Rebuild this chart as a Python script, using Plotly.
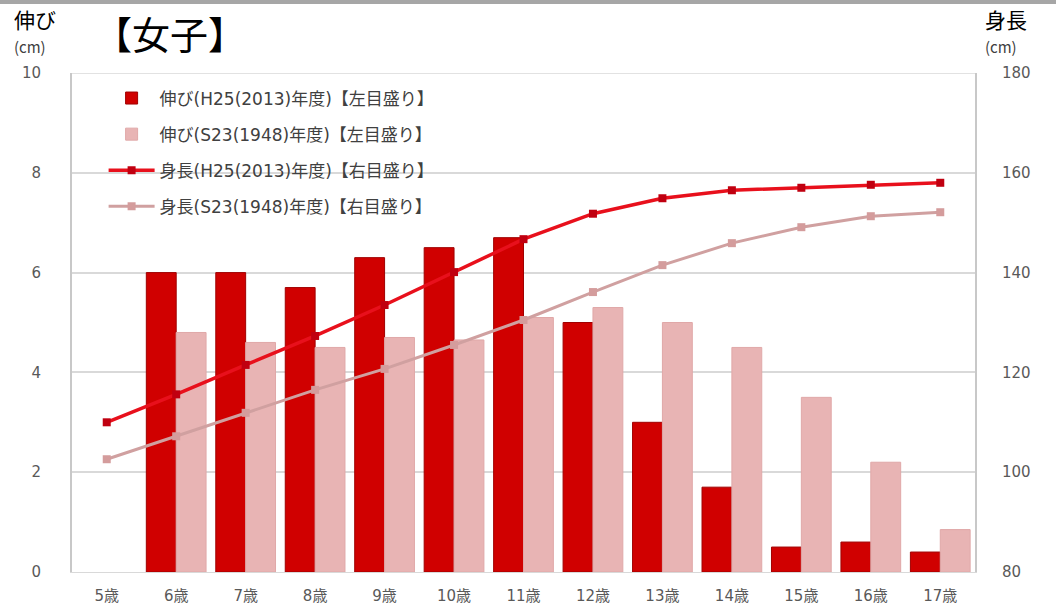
import plotly.graph_objects as go

ages = ["5歳", "6歳", "7歳", "8歳", "9歳", "10歳", "11歳", "12歳", "13歳", "14歳", "15歳", "16歳", "17歳"]
grow_h25 = [None, 6.0, 6.0, 5.7, 6.3, 6.5, 6.7, 5.0, 3.0, 1.7, 0.5, 0.6, 0.4]
grow_s23 = [None, 4.8, 4.6, 4.5, 4.7, 4.65, 5.1, 5.3, 5.0, 4.5, 3.5, 2.2, 0.85]
height_h25 = [110.0, 115.6, 121.5, 127.3, 133.5, 140.1, 146.7, 151.8, 154.9, 156.5, 157.0, 157.6, 158.0]
height_s23 = [102.6, 107.2, 111.9, 116.5, 120.7, 125.5, 130.5, 136.1, 141.5, 145.9, 149.1, 151.3, 152.1]

names = ["伸び(H25(2013)年度)【左目盛り】", "伸び(S23(1948)年度)【左目盛り】",
         "身長(H25(2013)年度)【右目盛り】", "身長(S23(1948)年度)【右目盛り】"]

FONT = "DejaVu Sans, Noto Sans CJK JP"

fig = go.Figure()
fig.add_trace(go.Bar(x=ages, y=grow_h25, name=names[0], legendgroup="a",
                     marker=dict(color="#D00000", line=dict(color="#A00000", width=1))))
fig.add_trace(go.Bar(x=ages, y=grow_s23, name=names[1], legendgroup="b",
                     marker=dict(color="#E8B4B4", line=dict(color="#E0A8A8", width=1))))
fig.add_trace(go.Scatter(x=ages, y=height_h25, name=names[2], yaxis="y2", legendgroup="c",
                         mode="lines+markers", line=dict(color="#E8101C", width=3.5),
                         marker=dict(symbol="square", size=8, color="#C00010")))
fig.add_trace(go.Scatter(x=ages, y=height_s23, name=names[3], yaxis="y2", legendgroup="d",
                         mode="lines+markers", line=dict(color="#D0A0A0", width=3),
                         marker=dict(symbol="square", size=8, color="#D49C9C")))

fig.update_layout(
    width=1056, height=610,
    margin=dict(l=72, r=81, t=73, b=38, autoexpand=False),
    paper_bgcolor="white", plot_bgcolor="white",
    barmode="group", bargap=0.14, bargroupgap=0,
    font=dict(family=FONT, color="#595959", size=14),
    xaxis=dict(range=[-0.5, len(ages) - 0.5], showgrid=False, showline=True, linecolor="#D9D9D9",
               ticks="", automargin=False,
               ticklabelstandoff=10, tickfont=dict(size=15, color="#595959")),
    yaxis=dict(range=[0, 10], dtick=2, showgrid=True, gridcolor="#D9D9D9", gridwidth=1.5,
               showline=True, linecolor="#C8C8C8", linewidth=2, zeroline=False, automargin=False,
               ticklabelstandoff=26, tickfont=dict(size=15, color="#595959")),
    yaxis2=dict(range=[80, 180], dtick=20, overlaying="y", side="right", showgrid=False,
                showline=True, linecolor="#C8C8C8", linewidth=2, zeroline=False, automargin=False,
                ticklabelstandoff=22, tickfont=dict(size=15, color="#595959")),
    legend=dict(x=0.035, y=0.985, xanchor="left", yanchor="top", bgcolor="rgba(0,0,0,0)",
                traceorder="grouped", tracegroupgap=11, itemwidth=46,
                font=dict(size=17, color="#404040", family=FONT)),
    showlegend=True,
)

fig.add_shape(type="rect", xref="paper", yref="paper", x0=-0.1, x1=1.2, y0=(572 - 4) / 499, y1=1.2,
              fillcolor="#A6A6A6", line=dict(width=0), layer="above")
fig.add_shape(type="line", xref="paper", yref="y", x0=0, x1=1, y0=10, y1=10,
              line=dict(color="#D9D9D9", width=1.5))

CJK = "Noto Sans CJK JP"
fig.add_annotation(text="【女子】", xref="paper", yref="paper", x=(92 - 72) / 903, y=(572 - 33) / 499,
                   xanchor="left", yanchor="middle", showarrow=False,
                   font=dict(size=38, color="black", family=CJK))
fig.add_annotation(text="伸び", xref="paper", yref="paper", x=(12 - 72) / 903, y=(572 - 19) / 499,
                   xanchor="left", yanchor="middle", showarrow=False,
                   font=dict(size=21, color="black", family=CJK))
fig.add_annotation(text="(cm)", xref="paper", yref="paper", x=(12 - 72) / 903, y=(572 - 47) / 499,
                   xanchor="left", yanchor="middle", showarrow=False,
                   font=dict(size=15, color="#404040", family=CJK))
fig.add_annotation(text="身長", xref="paper", yref="paper", x=(983 - 72) / 903, y=(572 - 19) / 499,
                   xanchor="left", yanchor="middle", showarrow=False,
                   font=dict(size=21, color="black", family=CJK))
fig.add_annotation(text="(cm)", xref="paper", yref="paper", x=(983 - 72) / 903, y=(572 - 47) / 499,
                   xanchor="left", yanchor="middle", showarrow=False,
                   font=dict(size=15, color="#404040", family=CJK))

fig.write_html("out.html", config={"displayModeBar": False},
               post_script="document.body.style.margin='0px';")
